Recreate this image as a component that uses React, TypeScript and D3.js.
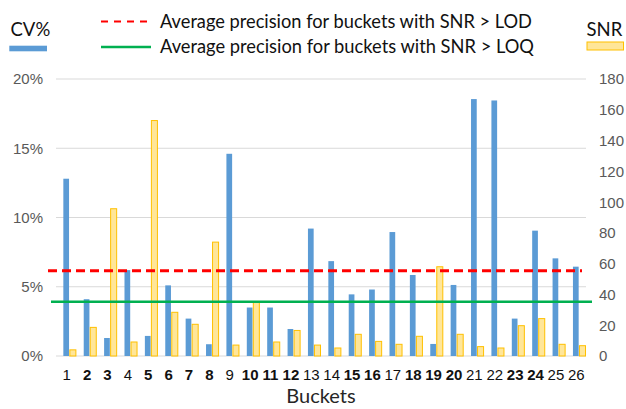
import React from 'react';
import * as d3 from 'd3';

const buckets = ['1','2','3','4','5','6','7','8','9','10','11','12','13','14','15','16','17','18','19','20','21','22','23','24','25','26'];
const boldBuckets = ['2','3','5','6','7','8','10','11','12','15','16','18','19','20','23','24'];
const cvValues = [12.8, 4.1, 1.3, 6.2, 1.45, 5.1, 2.7, 0.85, 14.6, 3.5, 3.5, 1.95, 9.2, 6.85, 4.45, 4.8, 8.95, 5.85, 0.87, 5.13, 18.55, 18.45, 2.7, 9.05, 7.05, 6.45];
const snrValues = [4, 18.6, 95.7, 9.1, 153, 28.4, 20.6, 74, 7.1, 35, 9.1, 16.6, 7.1, 5.2, 14.1, 9.5, 7.6, 12.8, 58, 14.1, 6.1, 5.2, 19.7, 24.3, 7.6, 6.7];
const cvTicks = [0, 5, 10, 15, 20];
const snrTicks = [0, 20, 40, 60, 80, 100, 120, 140, 160, 180];
const lodAverage = 6.16;
const loqAverage = 3.92;
const legendLod = 'Average precision for buckets with SNR > LOD';
const legendLoq = 'Average precision for buckets with SNR > LOQ';

const W = 626;
const H = 409;
const numFont = '"Liberation Sans", Arial, sans-serif';
const textFont = 'Lato, "Open Sans", sans-serif';

export default function App() {
  const x = d3.scaleBand<string>().domain(buckets).range([56, 586]).padding(0);
  const yCv = d3.scaleLinear().domain([0, 20]).range([356, 79]);
  const ySnr = d3.scaleLinear().domain([0, 180]).range([356, 79]);
  const bw = x.bandwidth();
  const [x0, x1] = x.range();

  return (
    <svg width={W} height={H} style={{ position: 'absolute', left: 0, top: 0, display: 'block', background: '#fff' }}>
      {cvTicks.map((t) => (
        <line key={'g' + t} x1={x0} x2={x1} y1={yCv(t)} y2={yCv(t)} stroke="#D9D9D9" strokeWidth={1} />
      ))}
      {cvTicks.map((t) => (
        <text key={'l' + t} x={43} y={yCv(t)} dy="0.36em" textAnchor="end" fontFamily={numFont} fontSize={15} fill="#595959">
          {t + '%'}
        </text>
      ))}
      {snrTicks.map((t) => (
        <text key={'r' + t} x={599} y={ySnr(t)} dy="0.36em" textAnchor="start" fontFamily={numFont} fontSize={15} fill="#595959">
          {t}
        </text>
      ))}
      {buckets.map((b, i) => (
        <rect key={'cv' + b} x={(x(b) as number) + bw * 0.36} width={bw * 0.28} y={yCv(cvValues[i])} height={yCv(0) - yCv(cvValues[i])} fill="#5B9BD5" />
      ))}
      {buckets.map((b, i) => (
        <rect key={'snr' + b} x={(x(b) as number) + bw * 0.655 + 0.5} width={bw * 0.345 - 1} y={ySnr(snrValues[i])} height={ySnr(0) - ySnr(snrValues[i])} fill="#FFE699" stroke="#FFC000" strokeWidth={1} />
      ))}
      <line x1={x0 - 8} x2={x1 - 4} y1={yCv(lodAverage)} y2={yCv(lodAverage)} stroke="#FF0000" strokeWidth={3} strokeDasharray="9,5" />
      <line x1={x0 - 5} x2={x1 + 6} y1={yCv(loqAverage)} y2={yCv(loqAverage)} stroke="#00B050" strokeWidth={2.5} />
      {buckets.map((b) => (
        <text key={'x' + b} x={(x(b) as number) + bw / 2 + 0.5} y={380} textAnchor="middle" fontFamily={numFont} fontSize={15}
          fontWeight={boldBuckets.includes(b) ? 'bold' : 'normal'} fill="#111">
          {b}
        </text>
      ))}
      <text x={(x0 + x1) / 2} y={403} textAnchor="middle" fontFamily={textFont} fontSize={20} fill="#262626">Buckets</text>
      <text x={10.5} y={36} fontFamily={textFont} fontSize={18.5} fill="#111">CV%</text>
      <rect x={9.3} y={45.7} width={37.7} height={5.6} fill="#5B9BD5" />
      <text x={586.5} y={36} fontFamily={textFont} fontSize={18.5} fill="#111">SNR</text>
      <rect x={587} y={42} width={36.5} height={8} fill="#FFE699" stroke="#FFC000" strokeWidth={1} />
      <line x1={101} x2={152} y1={21.5} y2={21.5} stroke="#FF0000" strokeWidth={2} strokeDasharray="7,6" />
      <line x1={101} x2={151} y1={47} y2={47} stroke="#00B050" strokeWidth={2.5} />
      <text x={160} y={28.3} fontFamily={textFont} fontSize={18.5} fill="#111" textLength={372} lengthAdjust="spacingAndGlyphs">{legendLod}</text>
      <text x={160} y={53.3} fontFamily={textFont} fontSize={18.5} fill="#111" textLength={374} lengthAdjust="spacingAndGlyphs">{legendLoq}</text>
    </svg>
  );
}
